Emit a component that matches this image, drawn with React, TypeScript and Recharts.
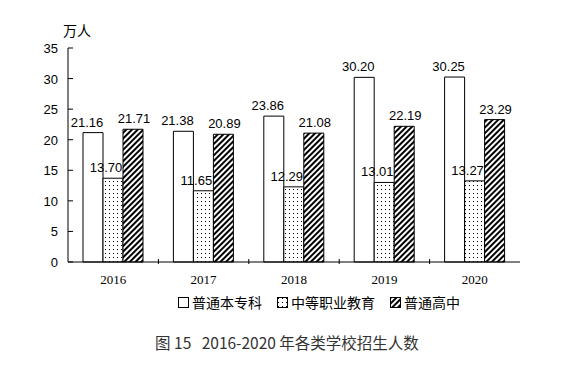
import { BarChart, Bar, XAxis, YAxis, LabelList } from "recharts"

const YEARS = ["2016", "2017", "2018", "2019", "2020"]
const HIGHER_ED = [21.16, 21.38, 23.86, 30.2, 30.25]
const VOCATIONAL = [13.7, 11.65, 12.29, 13.01, 13.27]
const HIGH_SCHOOL = [21.71, 20.89, 21.08, 22.19, 23.29]
const Y_TICKS = [0, 5, 10, 15, 20, 25, 30, 35]

const SERIES = [
  { key: "higher", name: "普通本专科", fill: "#fff", dx: -6 },
  { key: "vocational", name: "中等职业教育", fill: "url(#dots)", dx: -7 },
  { key: "high", name: "普通高中", fill: "url(#hatch)", dx: 1 },
]

const data = YEARS.map((year, i) => ({
  year,
  higher: HIGHER_ED[i],
  vocational: VOCATIONAL[i],
  high: HIGH_SCHOOL[i],
}))

const W = 568
const H = 366
const MARGIN = { top: 48, right: 48, bottom: 74, left: 8 }
const Y_WIDTH = 60
const PLOT_W = W - MARGIN.left - Y_WIDTH - MARGIN.right
const BAND = PLOT_W / YEARS.length

const FONT = "'Liberation Sans', Arial, sans-serif"
const CJK = "'Noto Sans CJK SC', sans-serif"

function YTick({ x, y, payload }: any) {
  return (
    <g>
      <text x={x} y={y} dy={5} textAnchor="end" fontSize={13} fontFamily={FONT} fill="#000">
        {payload.value}
      </text>
      <line x1={x + 10} y1={y} x2={x + 15} y2={y} stroke="#000" />
    </g>
  )
}

function XTick({ x, y, payload, index }: any) {
  const bx = x + BAND / 2
  return (
    <g>
      <text x={x} y={y + 20} textAnchor="middle" fontSize={13} fontFamily="'Liberation Serif', serif" fill="#000">
        {payload.value}
      </text>
      {index < YEARS.length - 1 && <line x1={bx} y1={y} x2={bx} y2={y - 5} stroke="#000" />}
    </g>
  )
}

function ChartLegend() {
  return (
    <div
      style={{
        position: "absolute",
        left: 178,
        top: 292,
        display: "flex",
        gap: 15,
        fontFamily: CJK,
        fontSize: 14,
        lineHeight: "20px",
        color: "#000",
        alignItems: "center",
      }}
    >
      {SERIES.map((s) => (
        <div key={s.key} style={{ display: "flex", alignItems: "center", gap: 3 }}>
          <svg width={11} height={11}>
            <rect x={0.5} y={0.5} width={10} height={10} fill={s.fill} stroke="#000" />
          </svg>
          <span>{s.name}</span>
        </div>
      ))}
    </div>
  )
}

export default function App() {
  return (
    <div style={{ position: "absolute", left: 0, top: 0, width: W, height: H, background: "#fff" }}>
      <svg width={0} height={0} style={{ position: "absolute" }}>
        <defs>
          <pattern id="dots" width={4} height={4} patternUnits="userSpaceOnUse">
            <rect width={4} height={4} fill="#fff" />
            <rect x={1} y={1} width={1} height={1} fill="#000" />
          </pattern>
          <pattern id="hatch" width={4} height={4} patternUnits="userSpaceOnUse" patternTransform="rotate(45)">
            <rect width={4} height={4} fill="#fff" />
            <rect x={0} y={0} width={2} height={4} fill="#000" />
          </pattern>
        </defs>
      </svg>
      <div style={{ position: "absolute", left: 63, top: 20, fontFamily: CJK, fontSize: 14, color: "#000" }}>万人</div>
      <BarChart width={W} height={H} data={data} margin={MARGIN} barGap={0} barCategoryGap={15}>
        <XAxis
          dataKey="year"
          axisLine={{ stroke: "#000" }}
          tickLine={false}
          tickSize={0}
          tick={<XTick />}
          height={30}
          interval={0}
        />
        <YAxis
          domain={[0, 35]}
          ticks={Y_TICKS}
          width={Y_WIDTH}
          axisLine={{ stroke: "#000" }}
          tickLine={false}
          tickSize={0}
          tickMargin={10}
          tick={<YTick />}
          interval={0}
        />
        {SERIES.map((s) => (
          <Bar key={s.key} dataKey={s.key} name={s.name} fill={s.fill} stroke="#000" strokeWidth={1} isAnimationActive={false}>
            <LabelList
              dataKey={s.key}
              position="top"
              offset={6}
              dx={s.dx}
              formatter={(v: any) => Number(v).toFixed(2)}
              style={{ fontSize: 13, fontFamily: FONT, fill: "#000" }}
            />
          </Bar>
        ))}
      </BarChart>
      <ChartLegend />
      <div
        style={{
          position: "absolute",
          left: 0,
          width: 574,
          top: 331,
          textAlign: "center",
          fontFamily: CJK,
          fontSize: 15.5,
          color: "#333",
          whiteSpace: "pre",
        }}
      >
        {"图 15   2016-2020 年各类学校招生人数"}
      </div>
    </div>
  )
}
